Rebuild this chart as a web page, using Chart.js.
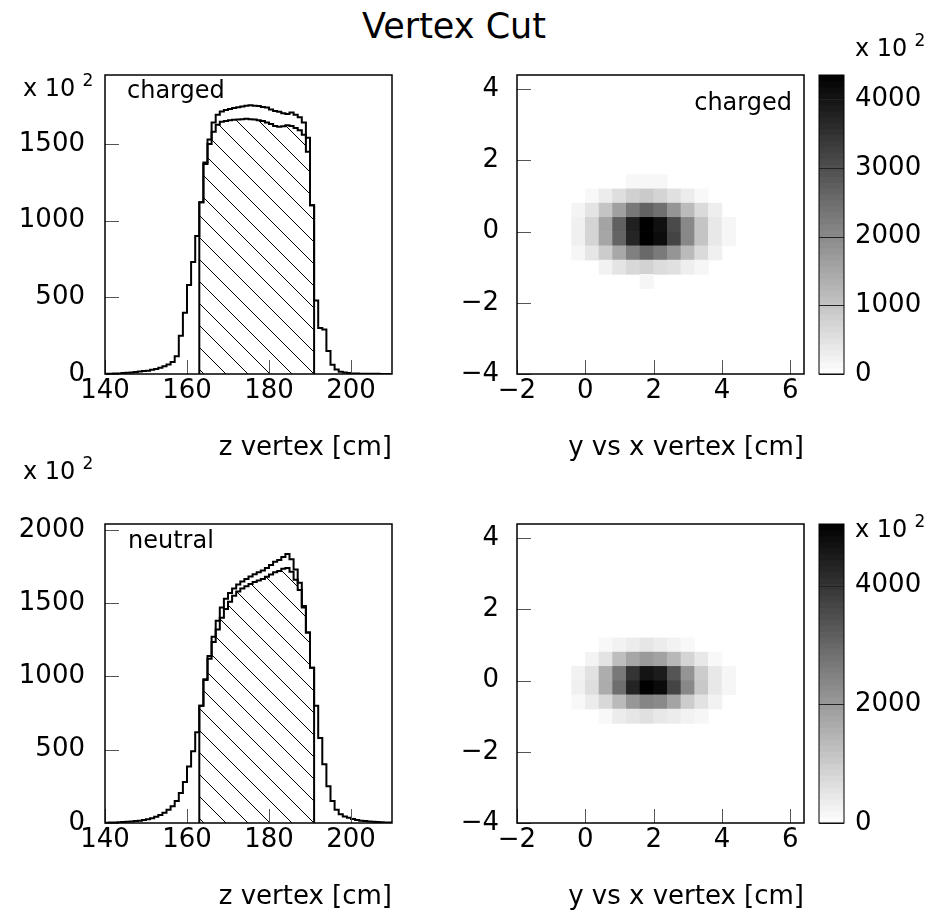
<!DOCTYPE html>
<html>
<head>
<meta charset="utf-8">
<title>Vertex Cut</title>
<script src="https://cdn.jsdelivr.net/npm/chart.js@4.4.1/dist/chart.umd.min.js"></script>
<style>
  html, body { margin: 0; padding: 0; background: #fff; }
  body { width: 945px; height: 916px; position: relative; overflow: hidden; font-family: "DejaVu Sans", sans-serif; color: #000; }
  canvas { position: absolute; }
  .txt { position: absolute; white-space: nowrap; line-height: 1; }
  .sup { font-size: 17px; position: relative; top: -10px; margin-left: 7px; }
</style>
</head>
<body>
<canvas id="zCharged" width="460" height="410" style="left:0;top:60px"></canvas>
<canvas id="xyCharged" width="370" height="410" style="left:440px;top:60px"></canvas>
<canvas id="cbCharged" width="135" height="410" style="left:810px;top:60px"></canvas>
<canvas id="zNeutral" width="460" height="410" style="left:0;top:509px"></canvas>
<canvas id="xyNeutral" width="370" height="410" style="left:440px;top:509px"></canvas>
<canvas id="cbNeutral" width="135" height="410" style="left:810px;top:509px"></canvas>

<div class="txt" style="left:0;width:908px;top:9px;text-align:center;font-size:35px">Vertex Cut</div>
<div class="txt" style="left:23px;top:76px;font-size:24px">x 10<span class="sup">2</span></div>
<div class="txt" style="left:23px;top:459px;font-size:24px">x 10<span class="sup">2</span></div>
<div class="txt" style="left:855px;top:36px;font-size:24px">x 10<span class="sup">2</span></div>
<div class="txt" style="left:855px;top:517px;font-size:24px">x 10<span class="sup">2</span></div>
<div class="txt" style="left:127px;top:78px;font-size:24px">charged</div>
<div class="txt" style="right:153px;top:90px;font-size:24px">charged</div>
<div class="txt" style="left:128px;top:528px;font-size:24px">neutral</div>

<script>
// z vertex histograms, 1 cm bins from 140 to 210 (values in units of 10^2)
var zBins = [];
for (var z = 140; z < 210; z++) zBins.push(z);
var cutBins = [];
for (var z = 163; z < 191; z++) cutBins.push(z);

var chargedAll = [1,2,3,4,6,8,10,13,16,19,
  22,27,33,40,50,62,78,115,250,400,
  580,730,900,1120,1380,1530,1640,1690,1712,1722,
  1728,1735,1740,1745,1750,1752,1750,1748,1742,1738,
  1725,1715,1710,1700,1695,1705,1690,1675,1640,1540,
  1100,480,300,290,150,60,30,15,9,6,
  4,3,2,2,1,1,1,0,0,0];
var chargedCut = [1120,1370,1500,1580,1625,1645,1650,1655,1658,1660,
  1662,1665,1662,1660,1655,1650,1640,1630,1618,1612,
  1615,1622,1618,1605,1590,1560,1450,1100];

var neutralAll = [2,3,4,5,6,8,10,13,16,20,
  25,32,42,55,70,90,115,150,205,280,
  385,490,620,800,980,1140,1270,1380,1470,1530,
  1570,1600,1628,1648,1665,1682,1697,1710,1722,1740,
  1760,1782,1795,1815,1835,1800,1730,1640,1480,1300,
  1060,800,580,400,250,150,90,60,45,35,
  27,21,16,13,10,8,6,5,4,3];
var neutralCut = [800,975,1120,1235,1320,1400,1460,1510,1550,1580,
  1600,1615,1630,1645,1655,1665,1680,1695,1710,1720,
  1735,1740,1715,1660,1590,1470,1300,1060];

// y vs x vertex, 0.4 cm cells: lower edges of columns and rows
var xLow = [-0.4, 0, 0.4, 0.8, 1.2, 1.6, 2.0, 2.4, 2.8, 3.2, 3.6, 4.0];
var yLow = [1.2, 0.8, 0.4, 0, -0.4, -0.8, -1.2, -1.6];

var chargedXY = [
  [0,0,0,0,136,136,136,0,0,0,0,0],
  [0,119,324,563,802,904,734,529,324,119,0,0],
  [188,461,1007,1621,2303,2678,2440,1808,1160,631,290,0],
  [256,734,1552,2713,3804,4350,4077,3088,2030,1007,392,154],
  [256,734,1518,2644,3719,4350,4145,3190,2030,1007,392,154],
  [154,427,870,1484,2167,2559,2269,1808,1177,631,256,0],
  [0,0,221,461,665,768,597,529,290,154,0,0],
  [0,0,0,0,0,154,0,0,0,0,0,0]
];
var neutralXY = [
  [0,0,0,0,0,0,0,0,0,0,0,0],
  [0,0,138,257,375,494,375,257,138,0,0,0],
  [0,217,553,1284,1759,1996,1838,1403,850,455,138,0],
  [257,573,1620,2668,4011,4644,4485,3359,2114,1008,455,178],
  [296,652,1640,2865,4327,5040,4842,3695,2351,1087,455,178],
  [138,375,771,1364,2055,2411,2312,1798,1008,573,257,0],
  [0,0,138,375,494,613,455,375,257,178,0,0],
  [0,0,0,0,0,0,0,0,0,0,0,0]
];

// tick labels
var zTicks = [140, 160, 180, 200];
var chargedCountTicks = [0, 500, 1000, 1500];
var neutralCountTicks = [0, 500, 1000, 1500, 2000];
var xyXTicks = [-2, 0, 2, 4, 6];
var xyYTicks = [-4, -2, 0, 2, 4];
var chargedBarTicks = [0, 1000, 2000, 3000, 4000];
var neutralBarTicks = [0, 2000, 4000];

var cell = 0.4;
var nLevels = 50;

Chart.defaults.font.family = '"DejaVu Sans", sans-serif';
Chart.defaults.font.size = 26;
Chart.defaults.color = '#000';

// frame round the plot area, inward tick marks, lines across the colour bar
var framePlugin = {
  id: 'frame',
  afterDatasetsDraw: function (chart, args, opts) {
    var ctx = chart.ctx, a = chart.chartArea;
    ctx.save();
    function seg(x1, y1, x2, y2) { ctx.beginPath(); ctx.moveTo(x1, y1); ctx.lineTo(x2, y2); ctx.stroke(); }
    ctx.lineWidth = 1;
    if (opts.inTicks) {
      ctx.strokeStyle = '#555';
      var sx = chart.scales.x, sy = chart.scales.y;
      sx.ticks.forEach(function (t) { var p = Math.round(sx.getPixelForValue(t.value)) + 0.5; seg(p, a.bottom, p, a.bottom - 14); });
      sy.ticks.forEach(function (t) { var p = Math.round(sy.getPixelForValue(t.value)) + 0.5; seg(a.left, p, a.left + 14, p); });
    }
    if (opts.across) {
      ctx.strokeStyle = '#222';
      var s = chart.scales.y;
      s.ticks.forEach(function (t) { var p = Math.round(s.getPixelForValue(t.value)) + 0.5; seg(a.left, p, a.right, p); });
    }
    ctx.strokeStyle = '#000';
    ctx.lineWidth = opts.width || 1.5;
    ctx.strokeRect(a.left, a.top, a.right - a.left, a.bottom - a.top);
    ctx.restore();
  }
};

function fixW(w) { return function (s) { s.width = w; s.paddingTop = 0; s.paddingBottom = 0; }; }
function fixH(h) { return function (s) { s.height = h; s.paddingLeft = 0; s.paddingRight = 0; }; }
function useTicks(list) { return function (s) { s.ticks = list.map(function (v) { return {value: v}; }); }; }
function label(v) { return String(v).replace('-', '\u2212'); }

function hatch() {
  var c = document.createElement('canvas');
  c.width = 22; c.height = 22;
  var g = c.getContext('2d');
  g.strokeStyle = '#000';
  g.lineWidth = 1;
  g.beginPath();
  g.moveTo(-2, -2); g.lineTo(24, 24);
  g.moveTo(20, -2); g.lineTo(24, 2);
  g.moveTo(-2, 20); g.lineTo(2, 24);
  g.stroke();
  return g.createPattern(c, 'repeat');
}
var hatchFill = hatch();

function zPanel(id, all, cut, yMax, yTicks) {
  var outer = zBins.map(function (z, i) { return {x: z, y: all[i]}; });
  outer.push({x: 210, y: all[all.length - 1]});
  var inner = [{x: cutBins[0], y: 0}];
  cutBins.forEach(function (z, i) { inner.push({x: z, y: cut[i]}); });
  inner.push({x: 191, y: cut[cut.length - 1]});
  inner.push({x: 191, y: 0});

  new Chart(document.getElementById(id), {
    type: 'line',
    data: {
      datasets: [
        {data: inner, stepped: 'before', borderColor: '#000', borderWidth: 2, pointRadius: 0, fill: 'origin', backgroundColor: hatchFill},
        {data: outer, stepped: 'before', borderColor: '#000', borderWidth: 2, pointRadius: 0, fill: false}
      ]
    },
    options: {
      responsive: false, animation: false, events: [],
      layout: {padding: {top: 15, right: 68, left: 0, bottom: 0}},
      plugins: {legend: {display: false}, tooltip: {enabled: false}, frame: {inTicks: true}},
      scales: {
        x: {type: 'linear', min: 140, max: 210,
          ticks: {padding: 2, maxRotation: 0, autoSkip: false, callback: label},
          afterBuildTicks: useTicks(zTicks),
          grid: {display: false, drawTicks: false}, border: {display: false},
          title: {display: true, text: 'z vertex [cm]', align: 'end', padding: {top: 0, bottom: 6}},
          afterFit: fixH(96)},
        y: {type: 'linear', min: 0, max: yMax,
          ticks: {padding: 20, autoSkip: false, callback: label},
          afterBuildTicks: useTicks(yTicks),
          grid: {display: false, drawTicks: false}, border: {display: false},
          afterFit: fixW(105)}
      }
    },
    plugins: [framePlugin]
  });
}

function xyPanel(id, rows, vMax) {
  var pts = [], cols = [];
  rows.forEach(function (row, r) {
    row.forEach(function (v, c) {
      if (!v) return;
      pts.push({x: xLow[c] + cell / 2, y: [yLow[r], yLow[r] + cell]});
      var g = Math.round(255 * (1 - v / vMax));
      cols.push('rgb(' + g + ',' + g + ',' + g + ')');
    });
  });

  new Chart(document.getElementById(id), {
    type: 'bar',
    data: {datasets: [{data: pts, backgroundColor: cols, borderWidth: 0, barPercentage: 1, categoryPercentage: 1, grouped: false}]},
    options: {
      responsive: false, animation: false, events: [],
      layout: {padding: {top: 15, right: 6, left: 0, bottom: 0}},
      plugins: {legend: {display: false}, tooltip: {enabled: false}, frame: {inTicks: true}},
      scales: {
        x: {type: 'linear', min: -2, max: 6.4, offset: false,
          ticks: {padding: 2, maxRotation: 0, autoSkip: false, callback: label},
          afterBuildTicks: useTicks(xyXTicks),
          grid: {display: false, drawTicks: false, offset: false}, border: {display: false},
          title: {display: true, text: 'y vs x vertex [cm]', align: 'end', padding: {top: 0, bottom: 6}},
          afterFit: fixH(96)},
        y: {type: 'linear', min: -4, max: 4.4,
          ticks: {padding: 18, autoSkip: false, callback: label},
          afterBuildTicks: useTicks(xyYTicks),
          grid: {display: false, drawTicks: false}, border: {display: false},
          afterFit: fixW(77)}
      }
    },
    plugins: [framePlugin]
  });
}

function cbPanel(id, vMax, barTicks) {
  var bands = [], cols = [];
  for (var i = 0; i < nLevels; i++) {
    bands.push({x: 'c', y: [vMax * i / nLevels, vMax * (i + 1) / nLevels]});
    var g = Math.round(255 * (1 - (i + 0.5) / nLevels));
    cols.push('rgb(' + g + ',' + g + ',' + g + ')');
  }

  new Chart(document.getElementById(id), {
    type: 'bar',
    data: {labels: ['c'], datasets: [{data: bands, backgroundColor: cols, borderWidth: 0, barPercentage: 1, categoryPercentage: 1, grouped: false}]},
    options: {
      responsive: false, animation: false, events: [],
      layout: {padding: {top: 15, right: 0, left: 9, bottom: 96}},
      plugins: {legend: {display: false}, tooltip: {enabled: false}, frame: {across: true, width: 1}},
      scales: {
        x: {display: false},
        y: {position: 'right', min: 0, max: vMax,
          ticks: {padding: 11, autoSkip: false, callback: label},
          afterBuildTicks: useTicks(barTicks),
          grid: {display: false, drawTicks: false}, border: {display: false},
          afterFit: fixW(101)}
      }
    },
    plugins: [framePlugin]
  });
}

zPanel('zCharged', chargedAll, chargedCut, 1950, chargedCountTicks);
xyPanel('xyCharged', chargedXY, 4350);
cbPanel('cbCharged', 4350, chargedBarTicks);
zPanel('zNeutral', neutralAll, neutralCut, 2040, neutralCountTicks);
xyPanel('xyNeutral', neutralXY, 5040);
cbPanel('cbNeutral', 5040, neutralBarTicks);
</script>
</body>
</html>
